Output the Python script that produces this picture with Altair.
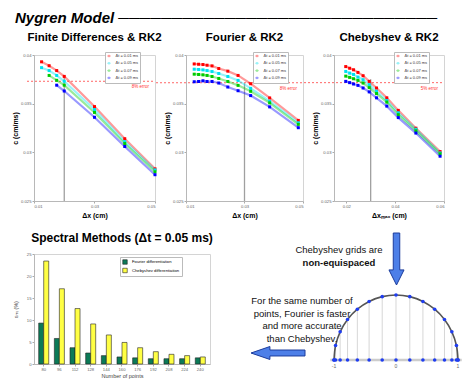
import altair as alt
import pandas as pd

FONT = "Liberation Sans"

# ---------------- data ----------------
series_labels = ["Δt = 0.01 ms", "Δt = 0.05 ms", "Δt = 0.07 ms", "Δt = 0.09 ms"]
series_colors = ["#ff0000", "#00e0f0", "#00cc00", "#0000ff"]

# Finite differences & RK2
fd_dx = [0.0125, 0.015, 0.0175, 0.02, 0.03, 0.04, 0.05]
fd_001 = [0.0393, 0.0389, 0.0384, 0.0378, 0.0347, 0.0314, 0.0283]
fd_005 = [0.0387, 0.0384, 0.0379, 0.0373, 0.0344, 0.0311, 0.0282]
fd_007 = [None, 0.0379, 0.0374, 0.0369, 0.0341, 0.0309, 0.0280]
fd_009 = [None, None, 0.0369, 0.0363, 0.0336, 0.0306, 0.0277]

# Fourier & RK2
fo_dx = [0.0128, 0.0143, 0.0158, 0.0172, 0.0189, 0.0212, 0.0243, 0.0278, 0.0321, 0.0386, 0.0484]
fo_001 = [0.03908, 0.03905, 0.03902, 0.03895, 0.03888, 0.03861, 0.03834, 0.0379, 0.03705, 0.03559, 0.03328]
fo_005 = [0.03854, 0.03851, 0.03847, 0.0384, 0.0383, 0.0381, 0.03779, 0.03739, 0.03657, 0.03525, 0.03304]
fo_007 = [0.03803, 0.038, 0.03796, 0.0379, 0.03779, 0.03759, 0.03728, 0.03688, 0.03627, 0.03508, 0.03287]
fo_009 = [0.03725, 0.03728, 0.03735, 0.03728, 0.03728, 0.03712, 0.03671, 0.03633, 0.03583, 0.03467, 0.03253]

# Chebyshev & RK2
ch_dx = [0.0198, 0.0214, 0.0230, 0.0248, 0.0269, 0.0294, 0.0324, 0.0366, 0.0413, 0.0485, 0.0584]
ch_001 = [0.03881, 0.03864, 0.03848, 0.03821, 0.03787, 0.03729, 0.03661, 0.0356, 0.03431, 0.03248, 0.03008]
ch_005 = [0.03831, 0.03814, 0.038, 0.03773, 0.03746, 0.03695, 0.03628, 0.03533, 0.03407, 0.03238, 0.02994]
ch_007 = [0.03783, 0.0377, 0.03756, 0.03739, 0.03712, 0.03665, 0.03604, 0.03516, 0.03387, 0.03221, 0.02984]
ch_009 = [0.03729, 0.03716, 0.03702, 0.03688, 0.03661, 0.03621, 0.0356, 0.03475, 0.03357, 0.03198, 0.0296]

c_ticks = [0.025, 0.0275, 0.03, 0.0325, 0.035, 0.0375, 0.04]

# Spectral methods bar chart
n_points = [80, 96, 112, 128, 144, 160, 176, 192, 208, 224, 240]
fourier_err = [9.3, 5.8, 3.7, 2.5, 1.9, 1.6, 1.4, 1.2, 1.2, 1.2, 1.4]
cheb_err = [23.4, 17.1, 12.6, 9.1, 6.6, 4.9, 3.7, 2.8, 2.2, 1.9, 1.6]
methods = ["Fourier differentiation", "Chebyshev differentiation"]
method_colors = ["#0b7a57", "#ffff44"]

# Chebyshev grid nodes (N = 14)
node_x = [1.0, 0.9749, 0.9010, 0.7818, 0.6235, 0.4339, 0.2225, 0.0,
          -0.2225, -0.4339, -0.6235, -0.7818, -0.9010, -0.9749, -1.0]
node_y = [0.0, 0.2225, 0.4339, 0.6235, 0.7818, 0.9010, 0.9749, 1.0,
          0.9749, 0.9010, 0.7818, 0.6235, 0.4339, 0.2225, 0.0]
grid_ticks = [-1, 0, 1]

note_top = ["Chebyshev grids are", "non-equispaced"]
note_bottom = ["For the same number of", "points, Fourier is faster",
               "and more accurate", "than Chebyshev."]

PH = 146  # plot height of the three top panels


def make_df(xs, ys_list):
    rows = []
    for lab, ys in zip(series_labels, ys_list):
        for x, y in zip(xs, ys):
            if y is not None:
                rows.append({"dx": x, "c": y, "series": lab})
    return pd.DataFrame(rows)


LEG_SYMBOL = "M-1,0H1M-0.45,-0.45H0.45V0.45H-0.45Z"


def line_panel(df, title, xdom, xticks, xtitle, width, err_val, err_text,
               vline_x, vline_top, rule_left):
    color = alt.Color(
        "series:N",
        scale=alt.Scale(domain=series_labels, range=series_colors),
        legend=alt.Legend(
            orient="none", legendX=width - 50, legendY=-3, title=None, padding=1.5,
            labelFontSize=4, labelColor="#333", symbolSize=10,
            symbolStrokeWidth=1, symbolType=LEG_SYMBOL, rowPadding=0.3,
            strokeColor="#bbbbbb", fillColor="white", labelLimit=60,
        ),
    )
    x = alt.X("dx:Q", scale=alt.Scale(domain=xdom, nice=False, zero=False),
              axis=alt.Axis(values=xticks, format=".2~f", title=xtitle,
                            titleFontSize=7, titleFontWeight="bold",
                            titleColor="black", titlePadding=3))
    y = alt.Y("c:Q", scale=alt.Scale(domain=[0.025, 0.04], nice=False, zero=False),
              axis=alt.Axis(values=c_ticks, format=".4~f", title="c (cm/ms)",
                            titleFontSize=7, titleFontWeight="bold",
                            titleColor="black", titlePadding=2))
    base = alt.Chart(df)
    lines = base.mark_line(strokeWidth=2.2, opacity=0.4).encode(x=x, y=y, color=color)
    pts = base.mark_square(size=9, opacity=1).encode(x=x, y=y, color=color)

    errdf = pd.DataFrame({"c": [err_val], "label": [err_text]})
    err_rule = alt.Chart(errdf).mark_rule(
        color="#ff5555", strokeDash=[2, 2], strokeWidth=0.9
    ).encode(y="c:Q", x=alt.value(rule_left), x2=alt.value(width))
    err_txt = alt.Chart(errdf).mark_text(
        align="right", baseline="top", dy=3, fontSize=4.5, color="#ff3333", font=FONT
    ).encode(y="c:Q", x=alt.value(width - 6), text="label:N")

    vdf = pd.DataFrame({"dx": [vline_x], "c": [vline_top], "c0": [0.025]})
    vline = alt.Chart(vdf).mark_rule(color="#a0a0a0", strokeWidth=1.3).encode(
        x="dx:Q", y="c:Q", y2="c0:Q")

    return alt.layer(vline, err_rule, err_txt, lines, pts).properties(
        width=width, height=PH,
        title=alt.Title(title, fontSize=11.5, fontWeight="bold", font=FONT,
                        color="black", offset=8),
    )


p1 = line_panel(make_df(fd_dx, [fd_001, fd_005, fd_007, fd_009]),
                "Finite Differences & RK2", [0.01, 0.05],
                [0.01, 0.02, 0.03, 0.04, 0.05], "Δx (cm)", 121,
                0.0373, "8% error", 0.02, 0.0378, -7)
p2 = line_panel(make_df(fo_dx, [fo_001, fo_005, fo_007, fo_009]),
                "Fourier & RK2", [0.01, 0.05],
                [0.01, 0.02, 0.03, 0.04, 0.05], "Δx (cm)", 117,
                0.03715, "8% error", 0.03, 0.0371, -30)
p3 = line_panel(make_df(ch_dx, [ch_001, ch_005, ch_007, ch_009]),
                "Chebyshev & RK2", [0.015, 0.06],
                [0.02, 0.03, 0.04, 0.05, 0.06], "Δxₘₐₓ (cm)", 110,
                0.03716, "5% error", 0.03, 0.0375, -30)

top_row = alt.hconcat(p1, p2, p3, spacing=31, bounds="flush").resolve_scale(
    x="independent", y="independent", color="independent").resolve_legend(
    color="independent")

# ---------------- bar chart ----------------
bar_rows = []
for n, f, c in zip(n_points, fourier_err, cheb_err):
    bar_rows.append({"N": n, "method": methods[0], "err": f})
    bar_rows.append({"N": n, "method": methods[1], "err": c})
bar_df = pd.DataFrame(bar_rows)

bars = alt.Chart(bar_df).mark_bar(stroke="#222222", strokeWidth=0.6).encode(
    x=alt.X("N:O", scale=alt.Scale(paddingInner=0.36, paddingOuter=0.3),
            axis=alt.Axis(title="Number of points", labelAngle=0, titleFontSize=5.5,
                          titleFontWeight="normal", titleColor="#444", titlePadding=2)),
    xOffset=alt.XOffset("method:N", sort=methods),
    y=alt.Y("err:Q", scale=alt.Scale(domain=[0, 25]),
            axis=alt.Axis(values=[0, 5, 10, 15, 20, 25], title="εᵣₑₗ (%)",
                          titleFontSize=5.5, titleFontWeight="normal",
                          titleColor="#444", titlePadding=8)),
    color=alt.Color("method:N", sort=methods,
                    scale=alt.Scale(domain=methods, range=method_colors),
                    legend=alt.Legend(orient="none", legendX=86, legendY=3,
                                      title=None, padding=2, labelFontSize=4.2,
                                      symbolType="square", symbolSize=20,
                                      symbolStrokeColor="#222", symbolStrokeWidth=0.6,
                                      rowPadding=0.5, strokeColor="#bbbbbb",
                                      fillColor="white")),
).properties(
    width=176, height=110,
    title=alt.Title("Spectral Methods (Δt = 0.05 ms)", fontSize=12, fontWeight="bold",
                    font=FONT, color="black", offset=7),
)

# ---------------- Chebyshev grid illustration ----------------
RW, RH = 241, 110
xs = alt.Scale(domain=[-2.871, 1.016], nice=False, zero=False)
ys = alt.Scale(domain=[-0.0615, 1.631], nice=False, zero=False)

node_df = pd.DataFrame({"k": list(range(len(node_x))), "x": node_x, "y": node_y,
                        "y0": [0.0] * len(node_x)})
tick_df = pd.DataFrame({"x": grid_ticks, "y0": [0.0] * len(grid_ticks),
                        "lab": [str(t) for t in grid_ticks]})
base_df = pd.DataFrame({"x": [-1.06], "x2": [1.06], "y0": [0.0]})

X = alt.X("x:Q", scale=xs, axis=None)
baseline = alt.Chart(base_df).mark_rule(color="#cccccc", strokeWidth=2.5).encode(
    x=X, x2="x2:Q", y=alt.Y("y0:Q", scale=ys, axis=None))
verticals = alt.Chart(node_df).mark_rule(color="#c4c4c4", strokeWidth=0.7).encode(
    x=X, y=alt.Y("y0:Q", scale=ys, axis=None), y2="y:Q")
arc = alt.Chart(node_df).mark_line(color="#555555", strokeWidth=1.6,
                                   interpolate="cardinal").encode(
    x=X, y=alt.Y("y:Q", scale=ys, axis=None), order="k:Q")
arc_pts = alt.Chart(node_df).mark_circle(color="#1f3df0", size=13, opacity=1).encode(
    x=X, y=alt.Y("y:Q", scale=ys, axis=None))
base_pts = alt.Chart(node_df).mark_circle(color="#1f3df0", size=13, opacity=1).encode(
    x=X, y=alt.Y("y0:Q", scale=ys, axis=None))
tick_txt = alt.Chart(tick_df).mark_text(fontSize=5, color="#666666", font=FONT,
                                        baseline="top", dy=4).encode(
    x=X, y=alt.Y("y0:Q", scale=ys, axis=None), text="lab:N")

layers = [baseline, verticals, arc, base_pts, arc_pts, tick_txt]

for i, line in enumerate(note_top):
    layers.append(
        alt.Chart(pd.DataFrame({"t": [line]})).mark_text(
            fontSize=9.5, font=FONT, color="#111",
            fontWeight="bold" if i == 1 else "normal").encode(
            x=alt.value(121), y=alt.value(-4 + 13 * i), text="t:N"))
for i, line in enumerate(note_bottom):
    layers.append(
        alt.Chart(pd.DataFrame({"t": [line]})).mark_text(
            fontSize=9.5, font=FONT, color="#111").encode(
            x=alt.value(84), y=alt.value(47 + 12.7 * i), text="t:N"))

DOWN = "M-0.125,-1L0.125,-1L0.125,0.42L0.29,0.42L0,1L-0.29,0.42L-0.125,0.42Z"
LEFT = "M-1,0L-0.3,-0.24L-0.3,-0.11L1,-0.11L1,0.11L-0.3,0.11L-0.3,0.24Z"
arrow_df = pd.DataFrame({"a": [1]})
layers.append(alt.Chart(arrow_df).mark_point(
    shape=DOWN, filled=True, fill="#4d7fe8", stroke="#1c3c9c", strokeWidth=1,
    size=2704, opacity=1).encode(x=alt.value(178.5), y=alt.value(5)))
layers.append(alt.Chart(arrow_df).mark_point(
    shape=LEFT, filled=True, fill="#4d7fe8", stroke="#1c3c9c", strokeWidth=1,
    size=2916, opacity=1).encode(x=alt.value(60), y=alt.value(99)))

right_panel = alt.layer(*layers).properties(
    width=RW, height=RH, view=alt.ViewBackground(stroke=None))

bottom_row = alt.hconcat(bars, right_panel, spacing=8, bounds="flush").resolve_scale(
    x="independent", y="independent", color="independent")

chart = alt.vconcat(top_row, bottom_row, spacing=12).resolve_scale(
    color="independent", x="independent", y="independent"
).properties(
    padding={"left": 3, "top": 2, "right": 0, "bottom": 0},
    title=alt.Title("Nygren Model " + "─" * 30, anchor="start", fontSize=15,
                    fontWeight="bold", fontStyle="italic", font=FONT, color="black",
                    offset=6, dx=4),
).configure_view(stroke="#d4d4d4").configure_axis(
    grid=False, domainColor="#b8b8b8", tickColor="#aaaaaa", tickSize=2,
    labelFontSize=4.2, labelColor="#666666", labelFont=FONT, titleFont=FONT,
    labelPadding=1,
).configure_legend(labelFont=FONT)

chart.save("out.html", embed_options={"renderer": "svg", "actions": False})
